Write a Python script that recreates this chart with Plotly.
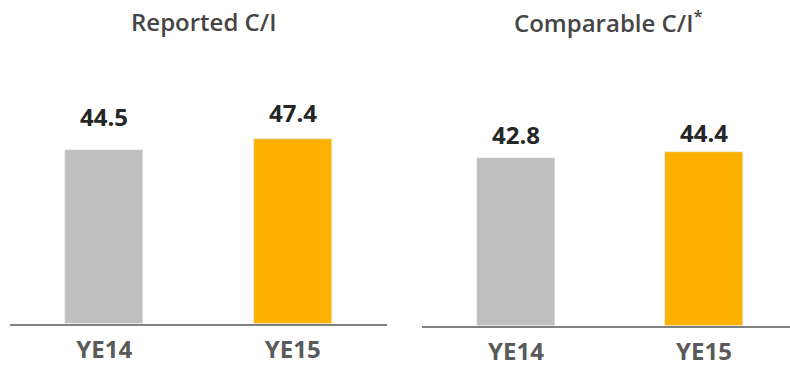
import plotly.graph_objects as go

categories = ["YE14", "YE15"]
reported = [44.5, 47.4]
comparable = [42.8, 44.4]
titles = ["Reported C/I", "Comparable C/I<sup>*</sup>"]
bar_colors = ["#BFBFBF", "#FDB100"]

W, H = 790, 367

def px_x(p):
    return p / W

def px_y(p):
    return 1 - p / H

fig = go.Figure()
fig.add_trace(go.Bar(x=categories, y=reported, marker_color=bar_colors, width=0.414,
                     xaxis="x", yaxis="y", hoverinfo="skip"))
fig.add_trace(go.Bar(x=categories, y=comparable, marker_color=bar_colors, width=0.415,
                     xaxis="x2", yaxis="y2", hoverinfo="skip"))

font_main = "Open Sans"
annotations = []
shifts_left = [34, 26]
shifts_right = [24, 20]
for c, v, s in zip(categories, reported, shifts_left):
    annotations.append(dict(x=c, y=v, xref="x", yref="y", text=f"{v:.1f}", showarrow=False,
                            yanchor="middle", yshift=s,
                            font=dict(family=font_main, size=24, color="#262626", weight=700)))
for c, v, s in zip(categories, comparable, shifts_right):
    annotations.append(dict(x=c, y=v, xref="x2", yref="y2", text=f"{v:.1f}", showarrow=False,
                            yanchor="middle", yshift=s,
                            font=dict(family=font_main, size=24, color="#262626", weight=700)))
annotations.append(dict(x=px_x(204), y=px_y(22), xref="paper", yref="paper", text=titles[0],
                        showarrow=False, xanchor="center", yanchor="middle",
                        font=dict(family=font_main, size=24, color="#454545", weight=600)))
annotations.append(dict(x=px_x(608), y=px_y(22), xref="paper", yref="paper", text=titles[1],
                        showarrow=False, xanchor="center", yanchor="middle",
                        font=dict(family=font_main, size=24, color="#454545", weight=600)))

axis_common = dict(showline=True, linecolor="#808080", linewidth=2, showgrid=False,
                   zeroline=False, ticks="", fixedrange=True, ticklabelstandoff=4,
                   tickfont=dict(family=font_main, size=24, color="#5A5A5A", weight=700))

fig.update_layout(
    width=W, height=H,
    margin=dict(l=0, r=0, t=0, b=0),
    paper_bgcolor="white", plot_bgcolor="white",
    showlegend=False,
    bargap=0,
    xaxis=dict(domain=[px_x(10), px_x(387)], range=[-0.5, 1.5], anchor="y", **axis_common),
    xaxis2=dict(domain=[px_x(422), 1.0], range=[-0.5, 1.457], anchor="y2", **axis_common),
    yaxis=dict(domain=[px_y(329), px_y(60)], range=[0, (329 - 60) / 3.96], visible=False,
               fixedrange=True),
    yaxis2=dict(domain=[px_y(331), px_y(60)], range=[0, (331 - 60) / 3.97], visible=False,
                fixedrange=True, anchor="x2"),
    annotations=annotations,
)

fig.write_html("out.html", config={"displayModeBar": False},
               post_script="document.body.style.margin='0';document.body.style.overflow='hidden';")
